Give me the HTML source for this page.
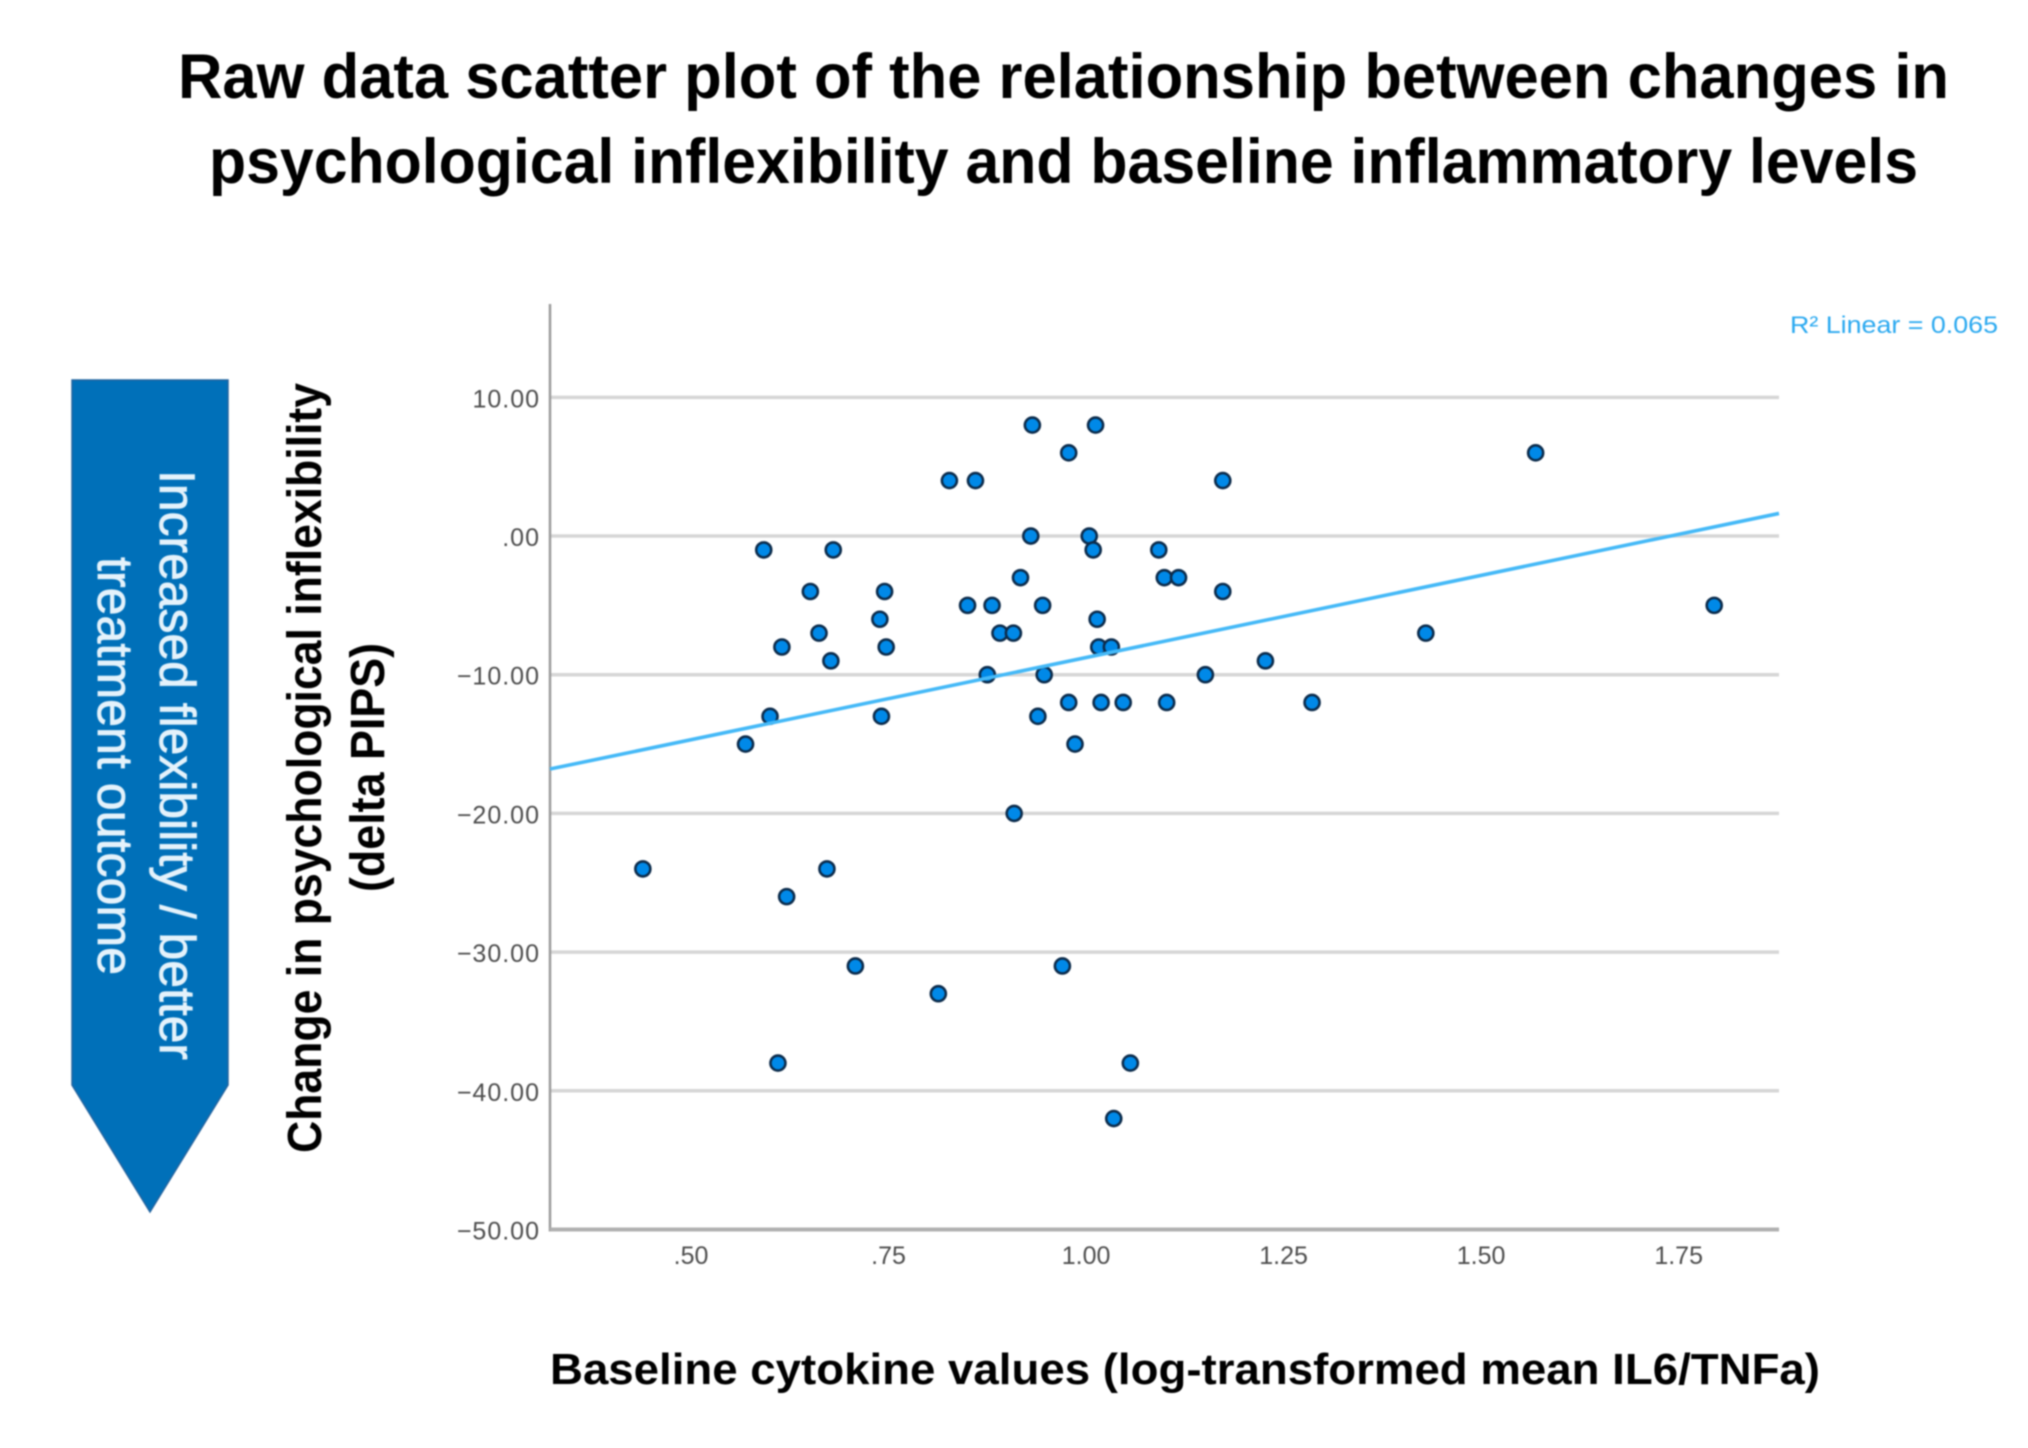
<!DOCTYPE html>
<html lang="en">
<head>
<meta charset="utf-8">
<title>Raw data scatter plot</title>
<style>
html,body{margin:0;padding:0;background:#fff;width:2028px;height:1448px;overflow:hidden}
svg{display:block;filter:blur(0.9px)}
text{font-family:"Liberation Sans",sans-serif}
</style>
</head>
<body>
<svg id="chart" xmlns="http://www.w3.org/2000/svg" width="2028" height="1448" viewBox="0 0 2028 1448">
  <rect x="0" y="0" width="2028" height="1448" fill="#ffffff"/>

  <g font-weight="700" font-size="63" fill="#000">
    <text x="178" y="98" textLength="1771" lengthAdjust="spacingAndGlyphs">Raw data scatter plot of the relationship between changes in</text>
    <text x="209" y="183" textLength="1709" lengthAdjust="spacingAndGlyphs">psychological inflexibility and baseline inflammatory levels</text>
  </g>

  <g>
    <polygon points="72,380 228,380 228,1085 150,1212 72,1085" fill="#0070b9" stroke="#23649f" stroke-width="1.5"/>
    <text transform="translate(160,470) rotate(90)" font-size="50" fill="#e4f2fb" stroke="#e4f2fb" stroke-width="0.8" textLength="590" lengthAdjust="spacingAndGlyphs">Increased flexibility / better</text>
    <text transform="translate(98,557) rotate(90)" font-size="50" fill="#e4f2fb" stroke="#e4f2fb" stroke-width="0.8" textLength="418" lengthAdjust="spacingAndGlyphs">treatment outcome</text>
  </g>

  <g font-weight="700" font-size="48" fill="#000">
    <text transform="translate(321,1153) rotate(-90)" textLength="770" lengthAdjust="spacingAndGlyphs">Change in psychological inflexibility</text>
    <text transform="translate(384,892) rotate(-90)" textLength="249" lengthAdjust="spacingAndGlyphs">(delta PIPS)</text>
  </g>

  <text x="550" y="1384" font-weight="700" font-size="44" fill="#000" textLength="1270" lengthAdjust="spacingAndGlyphs">Baseline cytokine values (log-transformed mean IL6/TNFa)</text>

  <text x="1790" y="333" font-size="24" fill="#2ba9f0" textLength="208" lengthAdjust="spacingAndGlyphs">R² Linear = 0.065</text>

  <g id="grid"></g>
  <g id="axes"></g>
  <g id="yticks"></g>
  <g id="xticks"></g>
  <g id="points"></g>
  <g id="trend"></g>
</svg>
<script>
var pointX = [0.439,0.569,0.592,0.600,0.610,0.615,0.621,0.651,0.662,0.672,0.677,0.680,0.708,0.739,0.741,0.745,0.747,0.813,0.827,0.850,0.860,0.875,0.881,0.891,0.908,0.909,0.917,0.932,0.930,0.939,0.945,0.947,0.970,0.978,0.978,0.986,1.004,1.009,1.012,1.014,1.016,1.019,1.032,1.035,1.047,1.056,1.092,1.099,1.102,1.117,1.151,1.173,1.173,1.227,1.286,1.430,1.569,1.795];
var pointY = [-24,-15,-1,-13,-38,-8,-26,-4,-7,-24,-9,-1,-31,-6,-13,-4,-8,-33,4,-5,4,-10,-5,-7,-7,-20,-3,8,0,-13,-5,-10,-31,6,-12,-15,0,-1,8,-6,-8,-12,-8,-42,-12,-38,-1,-3,-12,-3,-10,4,-4,-9,-12,-7,6,-5];
var yTickValues = [10,0,-10,-20,-30,-40,-50];
var yTickLabels = ["10.00",".00","−10.00","−20.00","−30.00","−40.00","−50.00"];
var xTickValues = [0.5,0.75,1,1.25,1.5,1.75];
var xTickLabels = [".50",".75","1.00","1.25","1.50","1.75"];
var trendX = [0.3215,1.877];
var trendY = [-16.8,1.63];
var xDomain = [0.3215,1.877];
var yDomain = [-50,16.73];

var SVGNS = "http://www.w3.org/2000/svg";
var plotLeft = 550, plotRight = 1779, plotTop = 304, plotBottom = 1229.5;
function xScale(v){ return plotLeft + (v - xDomain[0]) / (xDomain[1] - xDomain[0]) * (plotRight - plotLeft); }
function yScale(v){ return plotBottom - (v - yDomain[0]) / (yDomain[1] - yDomain[0]) * (plotBottom - plotTop); }
function make(tag, attrs){
  var el = document.createElementNS(SVGNS, tag);
  for (var k in attrs) el.setAttribute(k, attrs[k]);
  return el;
}

var gridG = document.getElementById("grid");
var axesG = document.getElementById("axes");
var yG = document.getElementById("yticks");
var xG = document.getElementById("xticks");
var ptG = document.getElementById("points");
var trG = document.getElementById("trend");

yTickValues.forEach(function(v, i){
  if (v !== yDomain[0]) {
    var g = make("line", {x1: plotLeft, x2: plotRight, y1: yScale(v), y2: yScale(v), stroke: "#d6d6d6", "stroke-width": 3.5});
    
    
    gridG.appendChild(g);
  }
  var t = make("text", {x: 540, y: yScale(v) + 10, "text-anchor": "end", "font-size": 25, "letter-spacing": 1, fill: "#4d4d4d"});
  
  
  t.textContent = yTickLabels[i];
  yG.appendChild(t);
});

xTickValues.forEach(function(v, i){
  var t = make("text", {x: xScale(v), y: 1264, "text-anchor": "middle", "font-size": 25, fill: "#4d4d4d"});
  
  
  t.textContent = xTickLabels[i];
  xG.appendChild(t);
});

var yAxis = make("line", {x1: plotLeft, x2: plotLeft, y1: plotTop, y2: plotBottom + 2, stroke: "#9c9c9c", "stroke-width": 2.5});


axesG.appendChild(yAxis);

var xAxis = make("line", {x1: plotLeft, x2: plotRight, y1: plotBottom, y2: plotBottom, stroke: "#b0b0b0", "stroke-width": 4});


axesG.appendChild(xAxis);

var trendLine = make("line", {x1: xScale(trendX[0]), y1: yScale(trendY[0]), x2: xScale(trendX[1]), y2: yScale(trendY[1]), stroke: "#45b9f7", "stroke-width": 3.6});


trG.appendChild(trendLine);

pointX.forEach(function(v, i){
  var c = make("circle", {cx: xScale(v), cy: yScale(pointY[i]), r: 7.5, fill: "#0089e8", stroke: "#0c2c4c", "stroke-width": 2.6});
  
  
  ptG.appendChild(c);
});
</script>
</body>
</html>
